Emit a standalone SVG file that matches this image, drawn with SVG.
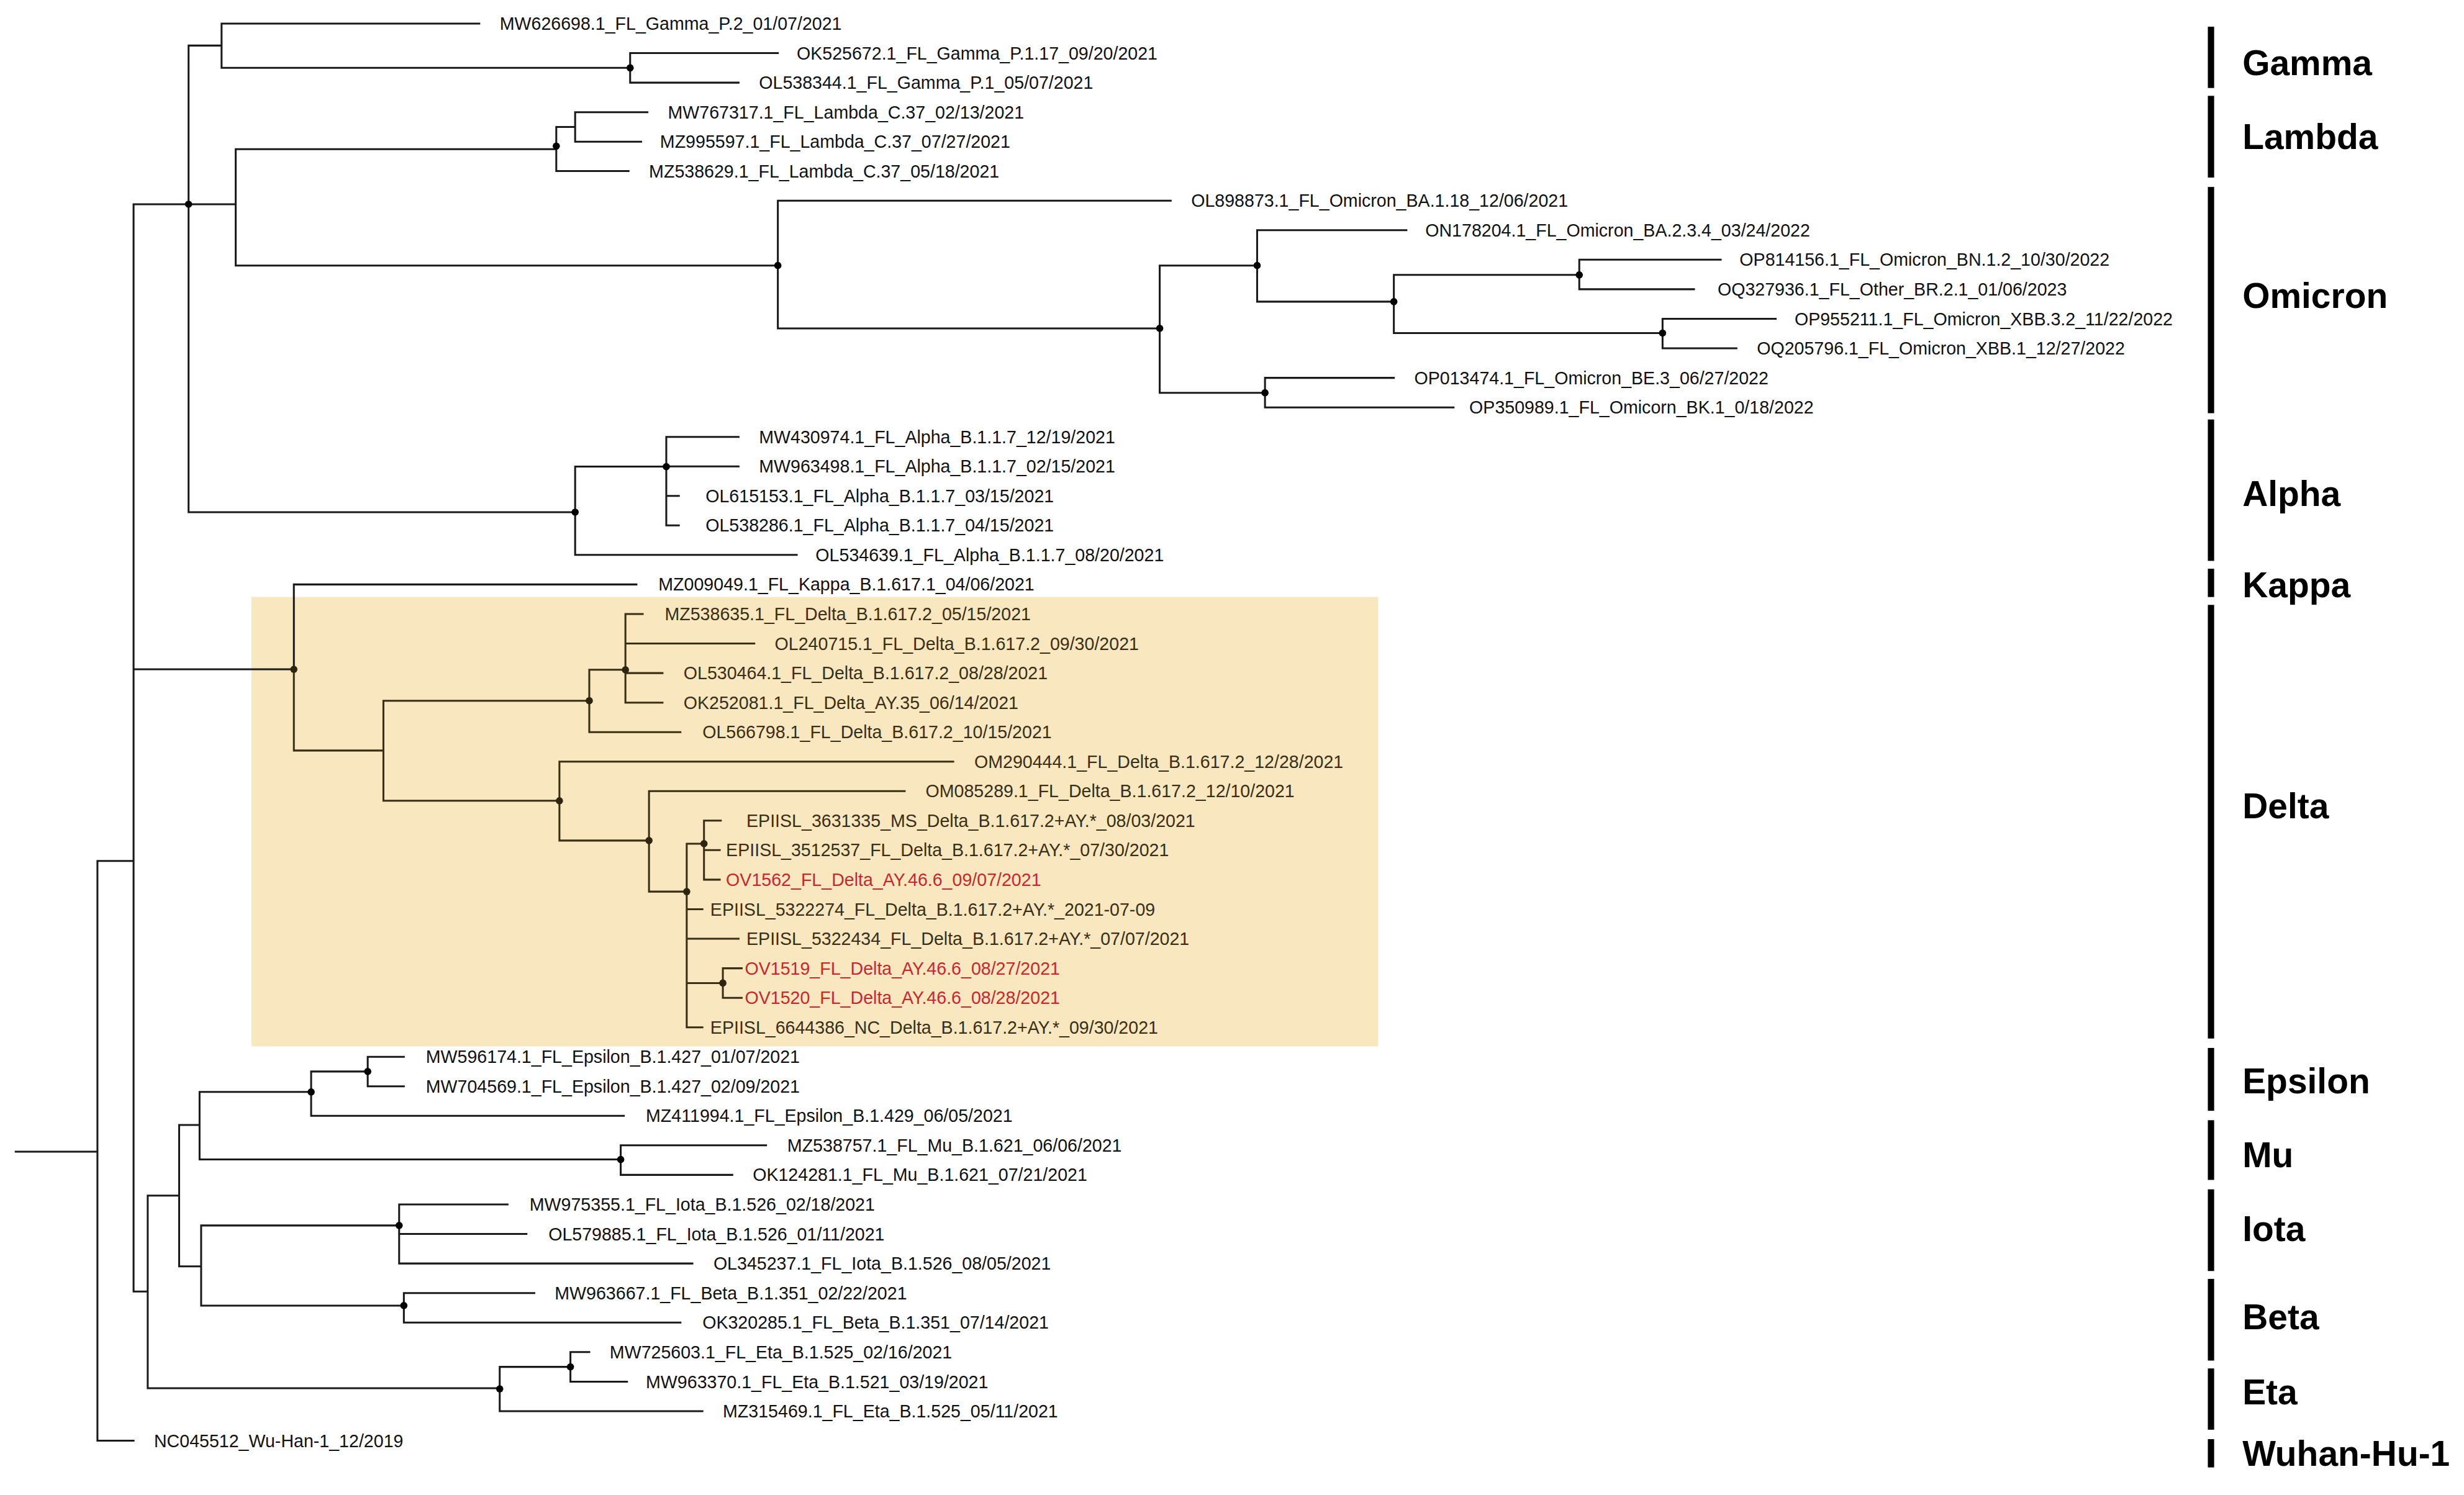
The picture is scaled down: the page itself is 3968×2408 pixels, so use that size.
<svg xmlns="http://www.w3.org/2000/svg" width="3968" height="2408" viewBox="0 0 3968 2408">
<style>
.br{fill:none;stroke:#1a1a1a;stroke-width:1.2;stroke-linecap:square}
.brd{fill:none;stroke:#3a2f14;stroke-width:1.2;stroke-linecap:square}
.lf{font-family:"Liberation Sans",Arial,sans-serif;font-size:11.3px;fill:#111}
.lfd{font-family:"Liberation Sans",Arial,sans-serif;font-size:11.3px;fill:#3a2f14}
.red{font-family:"Liberation Sans",Arial,sans-serif;font-size:11.3px;fill:#c8282d}
.cl{font-family:"Liberation Sans",Arial,sans-serif;font-size:22.5px;font-weight:bold;fill:#000}
.bar{fill:#000}
.dot{fill:#000}
.dotd{fill:#2e250e}
</style>
<rect width="3968" height="2408" fill="#fff"/>
<g transform="scale(2.5306)">
<rect id="delta-highlight" x="160" y="380" width="717" height="286" fill="#f8e7bf"/>
<g id="connectors">
<path class="br" d="M10,733H62M62,548V917M62,917H85M62,548H85M85,130V822M85,130H120M85,426H187M85,822H94
M120,29V326M120,29H141M141,15V43.2M141,15H305M141,43.2H401M401,33.8V52.6M401,33.8H495M401,52.6H470
M120,130H150M150,94.9V169M150,94.9H354M354,80.8V108.9M354,108.9H400M354,80.8H366M366,71.4V90.2M366,71.4H412M366,90.2H408
M150,169H495M495,127.7V209M495,127.7H745M495,209H738M738,169V250M738,169H800M800,146.5V192M800,146.5H895M800,192H887M887,175V212M887,175H1005M1005,165.3V184.1M1005,165.3H1095M1005,184.1H1078M887,212H1058M1058,202.9V221.7M1058,202.9H1130M1058,221.7H1105M738,250H805M805,240.5V259.3M805,240.5H887M805,259.3H925
M120,326H366M366,297V353.2M366,353.2H507M366,297H424M424,278.1V334.4M424,278.1H470M424,296.9H470M424,315.6H432M424,334.4H432
M187,372V426M187,372H405
M94,761V883.6M94,761H114M94,883.6H318M114,716V806M114,716H127M114,806H128
M127,695V738M127,695H198M198,682V710.2M198,710.2H397M198,682H234M234,672.7V691.4M234,672.7H257M234,691.4H257M127,738H395M395,729V747.8M395,729H487.5M395,747.8H466
M128,780V831M128,780H254M254,766.6V804.2M254,766.6H323M254,785.4H335M254,804.2H440.6M128,831H257M257,823V841.8M257,823H340M257,841.8H433
M318,870V898.2M318,898.2H447M318,870H363M363,860.6V879.4M363,860.6H375M363,879.4H399"/>
<path class="brd" d="M187,426V477.7M187,477.7H244M244,446V509.7M244,446H375M375,426.3V466M375,466H433M375,426.3H398M398,390.8V447.2M398,390.8H409M398,409.6H480M398,428.4H421.6M398,447.2H421.6
M244,509.7H356M356,484.8V535M356,484.8H606.6M356,535H413M413,503.5V567.5M413,503.5H575.7M413,567.5H437M437,537V653.9M437,537H448M448,522.3V559.9M448,522.3H458.7M448,541.1H458M448,559.9H458M437,578.7H447M437,597.5H470M437,625.7H460M460,616.3V635.1M460,616.3H472M460,635.1H472M437,653.9H447"/>
</g>
<g id="internal-nodes">
<circle class="dot" cx="120" cy="130" r="2.3"/><circle class="dot" cx="401" cy="43.2" r="2.3"/><circle class="dot" cx="354" cy="93" r="2.3"/>
<circle class="dot" cx="495" cy="169" r="2.3"/><circle class="dot" cx="738" cy="209" r="2.3"/><circle class="dot" cx="800" cy="169" r="2.3"/>
<circle class="dot" cx="887" cy="192" r="2.3"/><circle class="dot" cx="1005" cy="175" r="2.3"/><circle class="dot" cx="1058" cy="212" r="2.3"/>
<circle class="dot" cx="805" cy="250" r="2.3"/><circle class="dot" cx="424" cy="297" r="2.3"/><circle class="dot" cx="366" cy="326" r="2.3"/>
<circle class="dotd" cx="187" cy="426" r="2.3"/><circle class="dotd" cx="375" cy="446" r="2.3"/><circle class="dotd" cx="398" cy="426.3" r="2.3"/>
<circle class="dotd" cx="356" cy="509.7" r="2.3"/><circle class="dotd" cx="413" cy="535" r="2.3"/><circle class="dotd" cx="437" cy="567.5" r="2.3"/>
<circle class="dotd" cx="448" cy="537" r="2.3"/><circle class="dotd" cx="460" cy="625.7" r="2.3"/>
<circle class="dot" cx="198" cy="695" r="2.3"/><circle class="dot" cx="234" cy="682" r="2.3"/><circle class="dot" cx="395" cy="738" r="2.3"/>
<circle class="dot" cx="254" cy="780" r="2.3"/><circle class="dot" cx="257" cy="831" r="2.3"/><circle class="dot" cx="318" cy="884" r="2.3"/><circle class="dot" cx="363" cy="870" r="2.3"/>
</g>
<g id="leaves">
<g id="n0"><text class="lf" x="318" y="19">MW626698.1_FL_Gamma_P.2_01/07/2021</text></g>
<g id="n1"><text class="lf" x="507" y="37.8">OK525672.1_FL_Gamma_P.1.17_09/20/2021</text></g>
<g id="n2"><text class="lf" x="483" y="56.6">OL538344.1_FL_Gamma_P.1_05/07/2021</text></g>
<g id="n3"><text class="lf" x="425" y="75.4">MW767317.1_FL_Lambda_C.37_02/13/2021</text></g>
<g id="n4"><text class="lf" x="420" y="94.2">MZ995597.1_FL_Lambda_C.37_07/27/2021</text></g>
<g id="n5"><text class="lf" x="413" y="112.9">MZ538629.1_FL_Lambda_C.37_05/18/2021</text></g>
<g id="n6"><text class="lf" x="758" y="131.7">OL898873.1_FL_Omicron_BA.1.18_12/06/2021</text></g>
<g id="n7"><text class="lf" x="907" y="150.5">ON178204.1_FL_Omicron_BA.2.3.4_03/24/2022</text></g>
<g id="n8"><text class="lf" x="1107" y="169.3">OP814156.1_FL_Omicron_BN.1.2_10/30/2022</text></g>
<g id="n9"><text class="lf" x="1093" y="188.1">OQ327936.1_FL_Other_BR.2.1_01/06/2023</text></g>
<g id="n10"><text class="lf" x="1142" y="206.9">OP955211.1_FL_Omicron_XBB.3.2_11/22/2022</text></g>
<g id="n11"><text class="lf" x="1118" y="225.7">OQ205796.1_FL_Omicron_XBB.1_12/27/2022</text></g>
<g id="n12"><text class="lf" x="900" y="244.5">OP013474.1_FL_Omicron_BE.3_06/27/2022</text></g>
<g id="n13"><text class="lf" x="935" y="263.3">OP350989.1_FL_Omicorn_BK.1_0/18/2022</text></g>
<g id="n14"><text class="lf" x="483" y="282.1">MW430974.1_FL_Alpha_B.1.1.7_12/19/2021</text></g>
<g id="n15"><text class="lf" x="483" y="300.9">MW963498.1_FL_Alpha_B.1.1.7_02/15/2021</text></g>
<g id="n16"><text class="lf" x="449" y="319.6">OL615153.1_FL_Alpha_B.1.1.7_03/15/2021</text></g>
<g id="n17"><text class="lf" x="449" y="338.4">OL538286.1_FL_Alpha_B.1.1.7_04/15/2021</text></g>
<g id="n18"><text class="lf" x="519" y="357.2">OL534639.1_FL_Alpha_B.1.1.7_08/20/2021</text></g>
<g id="n19"><text class="lf" x="419" y="376">MZ009049.1_FL_Kappa_B.1.617.1_04/06/2021</text></g>
<g id="n20"><text class="lfd" x="423" y="394.8">MZ538635.1_FL_Delta_B.1.617.2_05/15/2021</text></g>
<g id="n21"><text class="lfd" x="493" y="413.6">OL240715.1_FL_Delta_B.1.617.2_09/30/2021</text></g>
<g id="n22"><text class="lfd" x="435" y="432.4">OL530464.1_FL_Delta_B.1.617.2_08/28/2021</text></g>
<g id="n23"><text class="lfd" x="435" y="451.2">OK252081.1_FL_Delta_AY.35_06/14/2021</text></g>
<g id="n24"><text class="lfd" x="447" y="470">OL566798.1_FL_Delta_B.617.2_10/15/2021</text></g>
<g id="n25"><text class="lfd" x="620" y="488.8">OM290444.1_FL_Delta_B.1.617.2_12/28/2021</text></g>
<g id="n26"><text class="lfd" x="589" y="507.5">OM085289.1_FL_Delta_B.1.617.2_12/10/2021</text></g>
<g id="n27"><text class="lfd" x="475" y="526.3">EPIISL_3631335_MS_Delta_B.1.617.2+AY.*_08/03/2021</text></g>
<g id="n28"><text class="lfd" x="462" y="545.1">EPIISL_3512537_FL_Delta_B.1.617.2+AY.*_07/30/2021</text></g>
<g id="n29"><text class="red" x="462" y="563.9">OV1562_FL_Delta_AY.46.6_09/07/2021</text></g>
<g id="n30"><text class="lfd" x="452" y="582.7">EPIISL_5322274_FL_Delta_B.1.617.2+AY.*_2021-07-09</text></g>
<g id="n31"><text class="lfd" x="475" y="601.5">EPIISL_5322434_FL_Delta_B.1.617.2+AY.*_07/07/2021</text></g>
<g id="n32"><text class="red" x="474" y="620.3">OV1519_FL_Delta_AY.46.6_08/27/2021</text></g>
<g id="n33"><text class="red" x="474" y="639.1">OV1520_FL_Delta_AY.46.6_08/28/2021</text></g>
<g id="n34"><text class="lfd" x="452" y="657.9">EPIISL_6644386_NC_Delta_B.1.617.2+AY.*_09/30/2021</text></g>
<g id="n35"><text class="lf" x="271" y="676.7">MW596174.1_FL_Epsilon_B.1.427_01/07/2021</text></g>
<g id="n36"><text class="lf" x="271" y="695.4">MW704569.1_FL_Epsilon_B.1.427_02/09/2021</text></g>
<g id="n37"><text class="lf" x="411" y="714.2">MZ411994.1_FL_Epsilon_B.1.429_06/05/2021</text></g>
<g id="n38"><text class="lf" x="501" y="733">MZ538757.1_FL_Mu_B.1.621_06/06/2021</text></g>
<g id="n39"><text class="lf" x="479" y="751.8">OK124281.1_FL_Mu_B.1.621_07/21/2021</text></g>
<g id="n40"><text class="lf" x="337" y="770.6">MW975355.1_FL_Iota_B.1.526_02/18/2021</text></g>
<g id="n41"><text class="lf" x="349" y="789.4">OL579885.1_FL_Iota_B.1.526_01/11/2021</text></g>
<g id="n42"><text class="lf" x="454" y="808.2">OL345237.1_FL_Iota_B.1.526_08/05/2021</text></g>
<g id="n43"><text class="lf" x="353" y="827">MW963667.1_FL_Beta_B.1.351_02/22/2021</text></g>
<g id="n44"><text class="lf" x="447" y="845.8">OK320285.1_FL_Beta_B.1.351_07/14/2021</text></g>
<g id="n45"><text class="lf" x="388" y="864.6">MW725603.1_FL_Eta_B.1.525_02/16/2021</text></g>
<g id="n46"><text class="lf" x="411" y="883.4">MW963370.1_FL_Eta_B.1.521_03/19/2021</text></g>
<g id="n47"><text class="lf" x="460" y="902.2">MZ315469.1_FL_Eta_B.1.525_05/11/2021</text></g>
<g id="n48"><text class="lf" x="98" y="921">NC045512_Wu-Han-1_12/2019</text></g>
</g>
<g id="clades">
<g id="c-gamma"><rect class="bar" x="1405" y="17" width="4" height="39"/><text class="cl" x="1427" y="48">Gamma</text></g>
<g id="c-lambda"><rect class="bar" x="1405" y="61" width="4" height="52"/><text class="cl" x="1427" y="95">Lambda</text></g>
<g id="c-omicron"><rect class="bar" x="1405" y="119" width="4" height="144"/><text class="cl" x="1427" y="196">Omicron</text></g>
<g id="c-alpha"><rect class="bar" x="1405" y="267" width="4" height="90"/><text class="cl" x="1427" y="322">Alpha</text></g>
<g id="c-kappa"><rect class="bar" x="1405" y="362" width="4" height="18"/><text class="cl" x="1427" y="380">Kappa</text></g>
<g id="c-delta"><rect class="bar" x="1405" y="385" width="4" height="276"/><text class="cl" x="1427" y="521">Delta</text></g>
<g id="c-epsilon"><rect class="bar" x="1405" y="667" width="4" height="40"/><text class="cl" x="1427" y="696">Epsilon</text></g>
<g id="c-mu"><rect class="bar" x="1405" y="713" width="4" height="38"/><text class="cl" x="1427" y="743">Mu</text></g>
<g id="c-iota"><rect class="bar" x="1405" y="757" width="4" height="52"/><text class="cl" x="1427" y="790">Iota</text></g>
<g id="c-beta"><rect class="bar" x="1405" y="814" width="4" height="52"/><text class="cl" x="1427" y="846">Beta</text></g>
<g id="c-eta"><rect class="bar" x="1405" y="871" width="4" height="39"/><text class="cl" x="1427" y="894">Eta</text></g>
<g id="c-wuhan"><rect class="bar" x="1405" y="916" width="4" height="18"/><text class="cl" x="1427" y="933">Wuhan-Hu-1</text></g>
</g>
</g>
</svg>
